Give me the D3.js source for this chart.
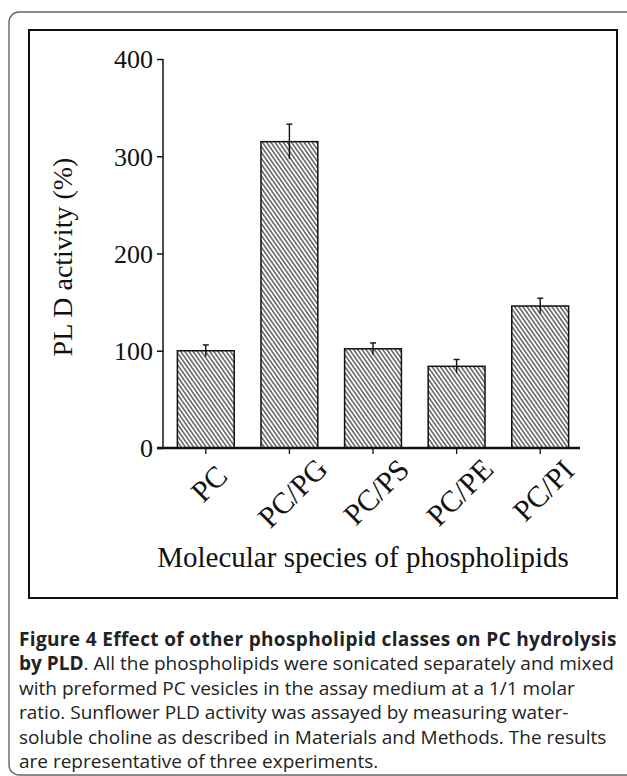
<!DOCTYPE html>
<html>
<head>
<meta charset="utf-8">
<script src="https://cdn.jsdelivr.net/npm/d3@7"></script>
<style>
  html, body { margin: 0; padding: 0; background: #fff; }
  svg { display: block; }
</style>
</head>
<body>
<svg id="chart" width="627" height="776"></svg>
<script>
const categories = ["PC", "PC/PG", "PC/PS", "PC/PE", "PC/PI"];
const values = [100, 315, 102, 84, 146];
const errors = [6, 18, 6, 7, 8];
const yTicks = [0, 100, 200, 300, 400];
const yTitle = "PL D activity (%)";
const xTitle = "Molecular species of phospholipids";
const captionLines = [
  [{t: "Figure 4 Effect of other phospholipid classes on PC hydrolysis", b: true}],
  [{t: "by PLD", b: true}, {t: ". All the phospholipids were sonicated separately and mixed", b: false}],
  [{t: "with preformed PC vesicles in the assay medium at a 1/1 molar", b: false}],
  [{t: "ratio. Sunflower PLD activity was assayed by measuring water-", b: false}],
  [{t: "soluble choline as described in Materials and Methods. The results", b: false}],
  [{t: "are representative of three experiments.", b: false}]
];

const svg = d3.select("#chart");
const serif = "'Liberation Serif', 'Times New Roman', serif";

// outer rounded frame
svg.append("rect").attr("x", 9).attr("y", 12).attr("width", 660).attr("height", 763)
  .attr("rx", 10).attr("fill", "none").attr("stroke", "#666").attr("stroke-width", 1.4);
// inner figure box
svg.append("rect").attr("x", 29).attr("y", 30).attr("width", 588).attr("height", 568)
  .attr("fill", "#fff").attr("stroke", "#111").attr("stroke-width", 2);

const defs = svg.append("defs");
const pat = defs.append("pattern").attr("id", "hatch").attr("patternUnits", "userSpaceOnUse")
  .attr("width", 3.4).attr("height", 10).attr("patternTransform", "rotate(-35)");
pat.append("rect").attr("width", 3.4).attr("height", 10).attr("fill", "#fff");
pat.append("line").attr("x1", 0.8).attr("y1", 0).attr("x2", 0.8).attr("y2", 10)
  .attr("stroke", "#222").attr("stroke-width", 1.1);

const x = d3.scaleBand().domain(categories).range([164, 582]).paddingInner(0.32).paddingOuter(0.16);
const y = d3.scaleLinear().domain([0, 400]).range([448, 59]);

// bars
svg.append("g").selectAll("rect").data(categories).join("rect")
  .attr("x", d => x(d)).attr("width", x.bandwidth())
  .attr("y", (d, i) => y(values[i])).attr("height", (d, i) => y(0) - y(values[i]))
  .attr("fill", "url(#hatch)").attr("stroke", "#111").attr("stroke-width", 1.5);

// error bars
const eg = svg.append("g").attr("stroke", "#111").attr("stroke-width", 1.4);
categories.forEach((c, i) => {
  const cx = x(c) + x.bandwidth() / 2;
  eg.append("line").attr("x1", cx).attr("x2", cx).attr("y1", y(values[i] - errors[i])).attr("y2", y(values[i] + errors[i]));
  eg.append("line").attr("x1", cx - 3).attr("x2", cx + 3).attr("y1", y(values[i] + errors[i])).attr("y2", y(values[i] + errors[i]));
});

// y axis
const yAxis = d3.axisLeft(y).tickValues(yTicks).tickSize(6).tickPadding(4).tickFormat(d3.format("d"));
const yg = svg.append("g").attr("transform", "translate(163,0)").call(yAxis);
yg.select(".domain").attr("stroke", "#111").attr("stroke-width", 1.5).attr("d", `M0,${y(400)}H0V${y(0)}`);
yg.selectAll(".tick line").attr("stroke", "#111").attr("stroke-width", 1.5);
yg.selectAll(".tick text").attr("font-family", serif).attr("font-size", 26).attr("fill", "#111").attr("dy", "0.34em");

// x axis baseline
const xAxis = d3.axisBottom(x).tickSize(6).tickSizeOuter(0).tickFormat("");
const xg = svg.append("g").attr("transform", `translate(0,${y(0)})`).call(xAxis);
xg.select(".domain").attr("stroke", "#111").attr("stroke-width", 2.4).attr("d", "M157,0H580");
xg.selectAll(".tick line").attr("stroke", "#111").attr("stroke-width", 1.3).attr("y1", 1);

// x labels, rotated
const lbl = svg.append("g").selectAll("text").data(categories).join("text")
  .attr("font-family", serif).attr("font-size", 30).attr("fill", "#111")
  .attr("text-anchor", "middle").text(d => d);
lbl.each(function(d) {
  const len = this.getComputedTextLength();
  const cx = x(d) + x.bandwidth() / 2 + 3;
  const cy = y(0) + 28 + 0.2 * len;
  d3.select(this).attr("transform", `translate(${cx},${cy}) rotate(-45)`).attr("dy", "0.35em");
});

// axis titles
svg.append("text").attr("font-family", serif).attr("font-size", 28).attr("fill", "#111")
  .attr("text-anchor", "middle").attr("transform", "translate(62,257) rotate(-90)")
  .attr("dy", "0.35em").text(yTitle);
svg.append("text").attr("font-family", serif).attr("font-size", 29).attr("fill", "#111")
  .attr("text-anchor", "middle").attr("x", 363).attr("y", 567).text(xTitle);

// caption
const cap = svg.append("g").attr("font-family", "'Open Sans', sans-serif").attr("font-size", 19).attr("fill", "#222");
captionLines.forEach((line, i) => {
  const t = cap.append("text").attr("x", 19).attr("y", 646 + i * 24.4);
  if (i === 0) t.attr("letter-spacing", 0.35);
  line.forEach(seg => t.append("tspan").attr("font-weight", seg.b ? "bold" : "normal").text(seg.t));
});
</script>
</body>
</html>
